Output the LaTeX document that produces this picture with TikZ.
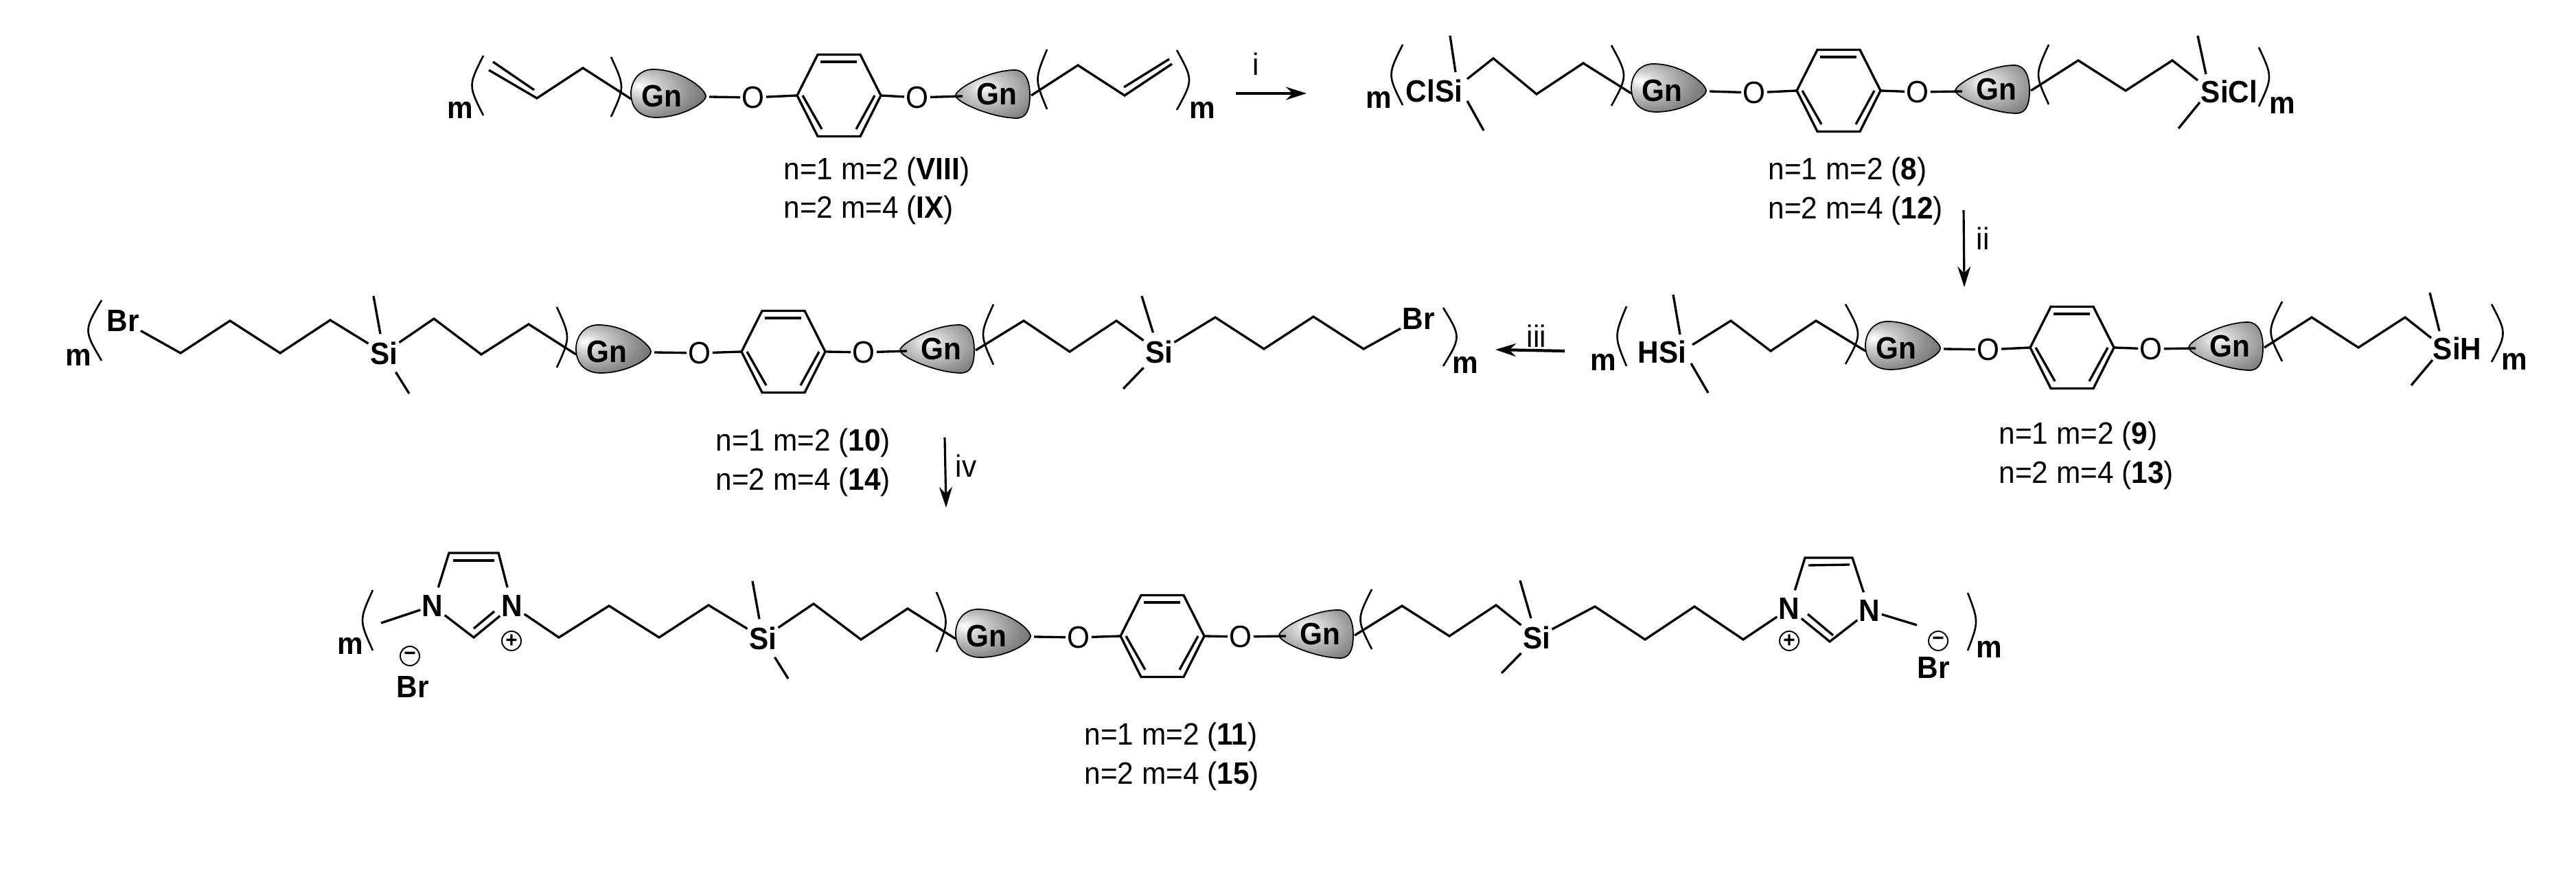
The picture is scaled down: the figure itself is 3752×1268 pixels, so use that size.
\documentclass[tikz,border=0pt]{standalone}
\usepackage{fontspec}
\setmainfont[FakeStretch=0.94]{Liberation Sans}
\usetikzlibrary{arrows.meta, positioning}

\pgfdeclareradialshading{gnshadeleft}{\pgfpoint{-20bp}{8bp}}{color(0bp)=(white); color(10bp)=(black!18); color(28bp)=(black!45); color(44bp)=(black!64); color(56bp)=(black!88); color(72bp)=(black!88)}
\pgfdeclareradialshading{gnshaderight}{\pgfpoint{-6bp}{8bp}}{color(0bp)=(white); color(10bp)=(black!18); color(28bp)=(black!42); color(44bp)=(black!62); color(54bp)=(black!88); color(72bp)=(black!90)}

\tikzset{
  atom/.style = {font=\fontsize{12.8}{15}\selectfont\bfseries, inner xsep=.5pt, inner ysep=3pt},
  oxy/.style = {font=\fontsize{12.8}{15}\selectfont, inner xsep=.5pt, inner ysep=3pt},
  cpd/.style = {font=\fontsize{12.8}{15}\selectfont, anchor=base west, inner sep=0pt},
  step label/.style = {font=\fontsize{12.8}{15}\selectfont, inner sep=0pt},
  charge/.style = {draw, circle, line width=.55pt, minimum size=.28cm, inner sep=0pt, font=\fontsize{9}{9}\selectfont\bfseries},
  bond/.style = {line width=.95pt, line join=miter},
  rxn/.style = {-{Stealth[length=.3cm, width=.19cm]}, line width=.9pt},
  pics/phenyl/.style = {code={
    \draw[bond] (-61,0) -- (-31,-59.5) -- (31,-59.5) -- (61,0) -- (31,59.5) -- (-31,59.5) -- cycle;
    \draw[bond] (-27,-49) -- (26,-49);
    \draw[bond] (-53,0) -- (-25,49);
    \draw[bond] (52,0) -- (25,49);
    \coordinate (-w) at (-61,0);
    \coordinate (-e) at (61,0);
  }},
  pics/gnleft/.style = {code={
    \path[shading=gnshadeleft, draw=black, line width=.5pt] (55,4) .. controls (55,-6) and (20,-35) .. (-22,-35)
      .. controls (-42,-35) and (-54,-18) .. (-54,0) .. controls (-54,20) and (-42,35) .. (-18,35)
      .. controls (20,35) and (55,14) .. (55,4) -- cycle;
    \node[atom] (-t) at (-9,4) {Gn};
    \coordinate (-w) at (-54,8);
    \coordinate (-e) at (60,5);
  }},
  pics/gnright/.style = {code={
    \path[shading=gnshaderight, draw=black, line width=.5pt] (-54,2) .. controls (-54,-8) and (-5,-35) .. (32,-35)
      .. controls (48,-35) and (54,-18) .. (54,2) .. controls (54,20) and (50,35) .. (35,35)
      .. controls (0,35) and (-54,12) .. (-54,2) -- cycle;
    \node[atom] (-t) at (6,0) {Gn};
    \coordinate (-w) at (-44,3);
    \coordinate (-e) at (56,2);
  }},
}

\begin{document}
\begin{tikzpicture}[x=.01cm, y=-.01cm]
  \useasboundingbox (0,0) rectangle (3752,1268);

  % chain vertices, one row per compound
  \foreach \n/\x/\y in {a1/712/102, a2/782/143, a3/849/99, a5/718/90, a6/778/131, a7/1570/95, a8/1638/139, a9/1707/93, a10/1637/127, a11/1703/86,
    b1/2137/115, b2/2175/85, b3/2238/137, b4/2306/92, b5/2112/52, b6/2120/105, b7/2137/147, b8/2161/190, b9/3027/88, b10/3096/132, b11/3164/88, b12/3201/117, b13/3201/52, b14/3213/108, b15/3204/149, b16/3173/187,
    c1/263/514, c2/335/467, c3/408/514, c4/481/466, c5/632/464, c6/701/516, c7/770/472, c8/544/431, c9/596/573, c10/1491/467, c11/1558/512, c12/1626/467, c13/1770/462, c14/1841/508, c15/1913/461, c16/1986/508, c17/1663/431, c18/1636/566,
    d1/2465/502, d2/2521/467, d3/2579/511, d4/2645/467, d5/2437/429, d6/2447/487, d7/2463/529, d8/2488/572, d9/3367/462, d10/3435/506, d11/3503/462, d12/3541/492, d13/3539/426, d14/3553/482, d15/3543/524, d16/3512/561,
    e1/555/907, e2/654/805, e3/726/805, e4/660/816, e5/720/816, e6/690/928, e7/690/915, e8/720/890, e9/814/928, e10/887/882, e11/960/928, e12/1032/881, e13/1096/846, e14/1148/988, e15/1185/879, e16/1254/931, e17/1322/886,
    e18/2042/882, e19/2111/926, e20/2179/881, e21/2214/845, e22/2187/980, e23/2323/883, e24/2396/931, e25/2468/883, e26/2539/931, e27/2629/812, e28/2698/812, e29/2634/823, e30/2694/822, e31/2665/934, e32/2633/894, e33/2670/925, e34/2792/910}
    \coordinate (\n) at (\x,\y);

  % brackets
  \foreach \xa/\ya/\yb/\xc in {704/81/168/682, 890/83/170/910, 1525/72/159/1507, 1714/73/160/1738,
    2043/65/153/2021, 2347/66/154/2371, 2984/65/152/2964, 3290/69/155/3310,
    148/437/525/122, 811/447/535/831, 1447/443/531/1427, 2102/448/533/2128,
    2369/446/533/2351, 2688/443/530/2712, 3324/439/526/3302, 3629/443/527/3651,
    543/859/947/523, 1364/862/949/1382, 1998/858/945/1976, 2866/863/947/2882}
    \draw[line width=.75pt] (\xa,\ya) .. controls (\xc,{(\ya+\yb)/2}) .. (\xa,\yb);

  \foreach \x/\y [count=\i] in {670/160, 1751/160, 2008/145, 3324/153, 114/520, 2134/531, 2335/527, 3662/526, 510/940, 2897/945}
    \node[atom] (m\i) at (\x,\y) {m};

  % VIII, IX
  \pic (ga1) at (973,136) {gnleft};
  \pic (ra) at (1222,139) {phenyl};
  \pic (ga2) at (1446,137) {gnright};
  \node[oxy] (oa1) at (1097,142) {O};
  \node[oxy] (oa2) at (1336,142) {O};
  \draw[bond] (a1) -- (a2) -- (a3) -- (ga1-w);
  \draw[bond] (a5) -- (a6);
  \draw[bond] (ga1-e) -- (oa1);
  \draw[bond] (oa1) -- (ra-w);
  \draw[bond] (ra-e) -- (oa2);
  \draw[bond] (oa2) -- (ga2-w);
  \draw[bond] (ga2-e) -- (a7) -- (a8) -- (a9);
  \draw[bond] (a10) -- (a11);
  \node[cpd] (la1) at (1141,262) {n=1 m=2 (\textbf{VIII})};
  \node[cpd] (la2) at (1141,318) {n=2 m=4 (\textbf{IX})};

  % 8, 12
  \node[atom] (cls) at (2089,132) {ClSi};
  \node[atom] (sicl) at (3247,133) {SiCl};
  \pic (gb1) at (2430,128) {gnleft};
  \pic (rb) at (2678,132) {phenyl};
  \pic (gb2) at (2902,130) {gnright};
  \node[oxy] (ob1) at (2555,135) {O};
  \node[oxy] (ob2) at (2793,134) {O};
  \draw[bond] (b1) -- (b2) -- (b3) -- (b4) -- (gb1-w);
  \draw[bond] (b5) -- (b6);
  \draw[bond] (b7) -- (b8);
  \draw[bond] (gb1-e) -- (ob1);
  \draw[bond] (ob1) -- (rb-w);
  \draw[bond] (rb-e) -- (ob2);
  \draw[bond] (ob2) -- (gb2-w);
  \draw[bond] (gb2-e) -- (b9) -- (b10) -- (b11) -- (b12);
  \draw[bond] (b13) -- (b14);
  \draw[bond] (b15) -- (b16);
  \node[cpd] (lb1) at (2575,262) {n=1 m=2 (\textbf{8})};
  \node[cpd] (lb2) at (2575,319) {n=2 m=4 (\textbf{12})};

  % 10, 14
  \node[atom] (brc1) at (179,467) {Br};
  \node[atom] (sic1) at (559,514) {Si};
  \node[atom] (sic2) at (1688,512) {Si};
  \node[atom] (brc2) at (2066,464) {Br};
  \pic (gc1) at (893,508) {gnleft};
  \pic (rc) at (1141,512) {phenyl};
  \pic (gc2) at (1365,508) {gnright};
  \node[oxy] (oc1) at (1019,514) {O};
  \node[oxy] (oc2) at (1258,513) {O};
  \draw[bond] (brc1) -- (c1) -- (c2) -- (c3) -- (c4) -- (sic1);
  \draw[bond] (sic1) -- (c5) -- (c6) -- (c7) -- (gc1-w);
  \draw[bond] (c8) -- (sic1);
  \draw[bond] (c9) -- (sic1);
  \draw[bond] (gc1-e) -- (oc1);
  \draw[bond] (oc1) -- (rc-w);
  \draw[bond] (rc-e) -- (oc2);
  \draw[bond] (oc2) -- (gc2-w);
  \draw[bond] (gc2-e) -- (c10) -- (c11) -- (c12) -- (sic2);
  \draw[bond] (sic2) -- (c13) -- (c14) -- (c15) -- (c16) -- (brc2);
  \draw[bond] (c17) -- (sic2);
  \draw[bond] (c18) -- (sic2);
  \node[cpd] (lc1) at (1042,657) {n=1 m=2 (\textbf{10})};
  \node[cpd] (lc2) at (1042,714) {n=2 m=4 (\textbf{14})};

  % 9, 13
  \node[atom] (hsi) at (2421,512) {HSi};
  \node[atom] (sih) at (3579,507) {SiH};
  \pic (gd1) at (2771,503) {gnleft};
  \pic (rd) at (3018,506) {phenyl};
  \pic (gd2) at (3242,504) {gnright};
  \node[oxy] (od1) at (2896,509) {O};
  \node[oxy] (od2) at (3133,508) {O};
  \draw[bond] (d1) -- (d2) -- (d3) -- (d4) -- (gd1-w);
  \draw[bond] (d5) -- (d6);
  \draw[bond] (d7) -- (d8);
  \draw[bond] (gd1-e) -- (od1);
  \draw[bond] (od1) -- (rd-w);
  \draw[bond] (rd-e) -- (od2);
  \draw[bond] (od2) -- (gd2-w);
  \draw[bond] (gd2-e) -- (d9) -- (d10) -- (d11) -- (d12);
  \draw[bond] (d13) -- (d14);
  \draw[bond] (d15) -- (d16);
  \node[cpd] (ld1) at (2911,647) {n=1 m=2 (\textbf{9})};
  \node[cpd] (ld2) at (2911,704) {n=2 m=4 (\textbf{13})};

  % 11, 15
  \node[atom] (ne1) at (630,882) {N};
  \node[atom] (ne2) at (746,882) {N};
  \node[atom] (sie1) at (1111,929) {Si};
  \node[atom] (sie2) at (2238,928) {Si};
  \node[atom] (ne3) at (2606,886) {N};
  \node[atom] (ne4) at (2723,889) {N};
  \node[atom] (bre1) at (601,1000) {Br};
  \node[atom] (bre2) at (2816,972) {Br};
  \node[charge] (pe1) at (745,933) {+};
  \node[charge] (pe2) at (2606,933) {+};
  \node[charge] (qe1) at (597,955) {−};
  \node[charge] (qe2) at (2823,933) {−};
  \pic (ge1) at (1446,922) {gnleft};
  \pic (re) at (1693,926) {phenyl};
  \pic (ge2) at (1917,923) {gnright};
  \node[oxy] (oe1) at (1571,928) {O};
  \node[oxy] (oe2) at (1807,927) {O};
  \draw[bond] (e1) -- (ne1) -- (e2) -- (e3) -- (ne2);
  \draw[bond] (e4) -- (e5);
  \draw[bond] (ne1) -- (e6) -- (ne2);
  \draw[bond] (e7) -- (e8);
  \draw[bond] (ne2) -- (e9) -- (e10) -- (e11) -- (e12) -- (sie1);
  \draw[bond] (sie1) -- (e15) -- (e16) -- (e17) -- (ge1-w);
  \draw[bond] (e13) -- (sie1);
  \draw[bond] (e14) -- (sie1);
  \draw[bond] (ge1-e) -- (oe1);
  \draw[bond] (oe1) -- (re-w);
  \draw[bond] (re-e) -- (oe2);
  \draw[bond] (oe2) -- (ge2-w);
  \draw[bond] (ge2-e) -- (e18) -- (e19) -- (e20) -- (sie2);
  \draw[bond] (sie2) -- (e23) -- (e24) -- (e25) -- (e26) -- (ne3);
  \draw[bond] (e21) -- (sie2);
  \draw[bond] (e22) -- (sie2);
  \draw[bond] (ne3) -- (e27) -- (e28) -- (ne4);
  \draw[bond] (e29) -- (e30);
  \draw[bond] (ne3) -- (e31) -- (ne4);
  \draw[bond] (e32) -- (e33);
  \draw[bond] (ne4) -- (e34);
  \node[cpd] (le1) at (1579,1085) {n=1 m=2 (\textbf{11})};
  \node[cpd] (le2) at (1579,1142) {n=2 m=4 (\textbf{15})};

  % reaction arrows
  \coordinate (s1) at (1800,136);
  \coordinate (t1) at (1903,136);
  \coordinate (s2) at (2860,306);
  \coordinate (t2) at (2861,418);
  \coordinate (s3) at (2279,511);
  \coordinate (t3) at (2178,509);
  \coordinate (s4) at (1376,637);
  \coordinate (t4) at (1378,739);
  \draw[rxn, line width=1.2pt] (s1) -- (t1);
  \draw[rxn] (s2) -- (t2);
  \draw[rxn, line width=1.2pt] (s3) -- (t3);
  \draw[rxn] (s4) -- (t4);
  \node[step label] (i1) at (1829,93) {i};
  \node[step label] (i2) at (2888,347) {ii};
  \node[step label] (i3) at (2238,489) {iii};
  \node[step label] (i4) at (1407,678) {iv};
\end{tikzpicture}
\end{document}
